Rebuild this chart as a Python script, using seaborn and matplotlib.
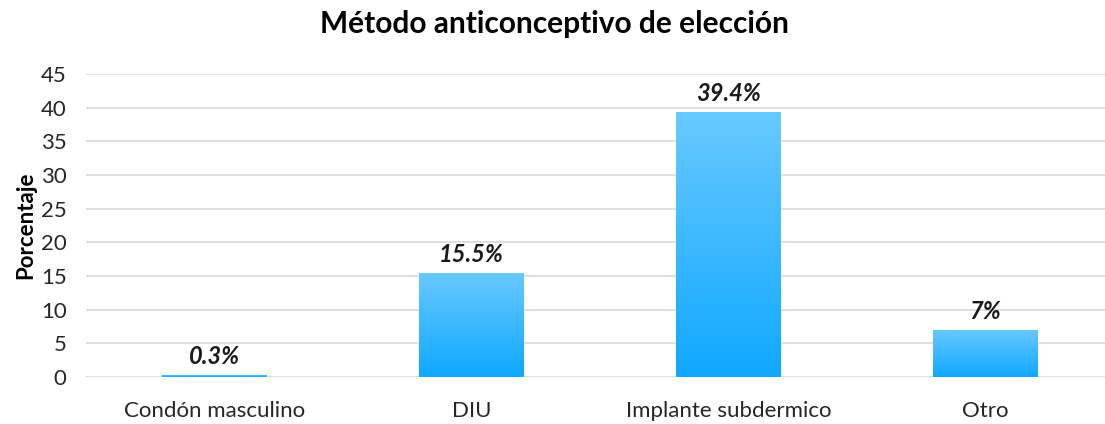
import matplotlib.pyplot as plt
import numpy as np
import pandas as pd
import seaborn as sns
from matplotlib.colors import LinearSegmentedColormap

categories = ["Condón masculino", "DIU", "Implante subdermico", "Otro"]
values = [0.3, 15.5, 39.4, 7.0]
value_labels = ["0.3%", "15.5%", "39.4%", "7%"]

sns.set_theme(style="white")
plt.rcParams['font.family'] = ['Lato', 'DejaVu Sans']

df = pd.DataFrame({"metodo": categories, "porcentaje": values})

fig = plt.figure(figsize=(11.05, 4.24), dpi=100)
# plot area runs a little past the right edge, as in the original
ax = fig.add_axes([0.0778, 0.111, 0.930, 0.714])

sns.barplot(data=df, x="metodo", y="porcentaje", color="#3db5ff",
            width=0.405, ax=ax, zorder=2)

ax.set_ylim(0, 45)
ax.set_yticks(np.arange(0, 50, 5))
ax.yaxis.grid(True, color="#d9d9d9", linewidth=1.2, zorder=0)
ax.set_axisbelow(True)
for s in ax.spines.values():
    s.set_visible(False)

# vertical gradient fill per bar (light on top, deeper blue at bottom)
grad_cmap = LinearSegmentedColormap.from_list("bars", ["#10a8ff", "#68c9ff"])
grad = np.linspace(0, 1, 256).reshape(-1, 1)
for bar in ax.patches:
    x0, y0 = bar.get_x(), bar.get_y()
    w, h = bar.get_width(), bar.get_height()
    img = ax.imshow(grad, cmap=grad_cmap, origin="lower", aspect="auto",
                    extent=[x0, x0 + w, y0, y0 + h], zorder=3)
    img.set_clip_path(bar)
    bar.set_facecolor("none")
ax.set_xlim(-0.5, len(categories) - 0.5)

for bar, lab in zip(ax.patches, value_labels):
    ax.annotate(lab, (bar.get_x() + bar.get_width() / 2, bar.get_height()),
                xytext=(0, 5), textcoords="offset points", ha="center",
                va="bottom", fontsize=17, fontweight="bold", fontstyle="italic",
                color="#1a1a1a")

ax.set_xlabel("")
ax.set_ylabel("Porcentaje", fontsize=16, fontweight="bold", color="black",
              labelpad=3)
ax.tick_params(axis="both", length=0, labelsize=16, labelcolor="#262626")
ax.tick_params(axis="x", pad=17)
ax.tick_params(axis="y", pad=14)
ax.set_title("Método anticonceptivo de elección", fontsize=21.5,
             fontweight="bold", pad=30, color="black", x=0.456)

plt.savefig("out.png", dpi=100)
